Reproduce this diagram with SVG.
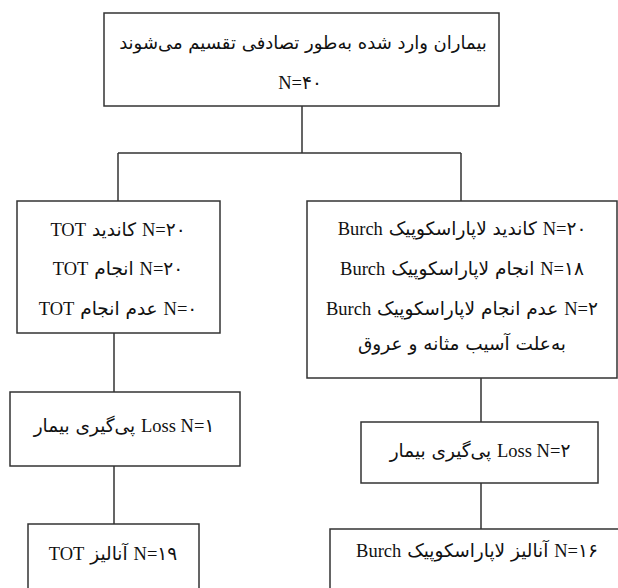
<svg xmlns="http://www.w3.org/2000/svg" width="618" height="588" viewBox="0 0 618 588">
<style>
.box{fill:#fff;stroke:#333;stroke-width:1.5}
.ln{fill:none;stroke:#333;stroke-width:1.5}
text{font-family:"DejaVu Sans",serif;font-size:18.5px;fill:#111;text-anchor:middle;direction:rtl;unicode-bidi:embed}
.l{font-family:"Liberation Serif","Times New Roman",serif}
</style>
<rect width="618" height="588" fill="#fff"/>
<g id="connectors">
<path class="ln" d="M302,106V153M118,153H461M118,153V201M461,153V201"/>
<path class="ln" d="M114,333V392M114,466V524"/>
<path class="ln" d="M481,378V422M481,483V529"/>
</g>
<g id="n-top">
<rect class="box" x="104" y="13" width="395" height="93"/>
<text x="303" y="49" style="font-size:18px">بیماران وارد شده به‌طور تصادفی تقسیم می‌شوند</text>
<text x="300" y="89"><tspan class="l">N=</tspan>۴۰</text>
</g>
<g id="n-tot">
<rect class="box" x="17" y="201" width="203" height="132"/>
<text x="118" y="236"><tspan class="l">N=</tspan>۲۰ کاندید <tspan class="l">TOT</tspan></text>
<text x="118" y="275"><tspan class="l">N=</tspan>۲۰ انجام <tspan class="l">TOT</tspan></text>
<text x="118" y="315"><tspan class="l">N=</tspan>۰ عدم انجام <tspan class="l">TOT</tspan></text>
</g>
<g id="n-burch">
<rect class="box" x="307" y="201" width="310" height="177"/>
<text x="462" y="235"><tspan class="l">N=</tspan>۲۰ کاندید لاپاراسکوپیک <tspan class="l">Burch</tspan></text>
<text x="462" y="275"><tspan class="l">N=</tspan>۱۸ انجام لاپاراسکوپیک <tspan class="l">Burch</tspan></text>
<text x="462" y="315"><tspan class="l">N=</tspan>۲ عدم انجام لاپاراسکوپیک <tspan class="l">Burch</tspan></text>
<text x="462" y="350">به‌علت آسیب مثانه و عروق</text>
</g>
<g id="n-loss-left">
<rect class="box" x="10" y="392" width="230" height="74"/>
<text x="124" y="432"><tspan class="l">Loss N=</tspan>۱ پی‌گیری بیمار</text>
</g>
<g id="n-loss-right">
<rect class="box" x="361" y="422" width="237" height="61"/>
<text x="480" y="457"><tspan class="l">Loss N=</tspan>۲ پی‌گیری بیمار</text>
</g>
<g id="n-an-left">
<rect class="box" x="28" y="524" width="171" height="80"/>
<text x="113" y="560"><tspan class="l">N=</tspan>۱۹ آنالیز <tspan class="l">TOT</tspan></text>
</g>
<g id="n-an-right">
<rect class="box" x="330" y="529" width="300" height="80"/>
<text x="477" y="557"><tspan class="l">N=</tspan>۱۶ آنالیز لاپاراسکوپیک <tspan class="l">Burch</tspan></text>
</g>
</svg>
